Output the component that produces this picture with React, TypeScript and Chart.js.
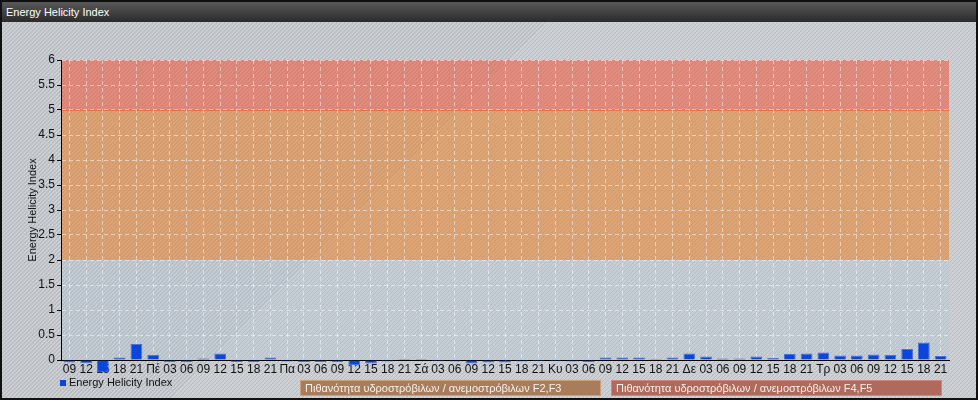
import { useEffect, useRef } from "react";
import { Chart, registerables } from "chart.js";

Chart.register(...registerables);

const FONT = "'Liberation Sans', Arial, sans-serif";
Chart.defaults.font.family = FONT;
Chart.defaults.font.size = 11;

const categories = [
  "09", "12", "15", "18", "21",
  "Πέ", "03", "06", "09", "12", "15", "18", "21",
  "Πα", "03", "06", "09", "12", "15", "18", "21",
  "Σά", "03", "06", "09", "12", "15", "18", "21",
  "Κυ", "03", "06", "09", "12", "15", "18", "21",
  "Δε", "03", "06", "09", "12", "15", "18", "21",
  "Τρ", "03", "06", "09", "12", "15", "18", "21",
];

const helicity = [
  -0.05, -0.06, -0.25, 0.05, 0.32,
  0.1, -0.04, -0.04, 0.03, 0.13, -0.04, -0.04, 0.05,
  -0.03, -0.04, -0.04, -0.04, -0.1, -0.07, -0.03, 0.02,
  0.02, -0.02, -0.03, -0.07, -0.05, -0.05, -0.03, -0.02,
  -0.02, -0.03, -0.04, 0.05, 0.05, 0.05, 0.02, 0.05,
  0.13, 0.07, 0.03, 0.03, 0.07, 0.04, 0.12, 0.13,
  0.15, 0.09, 0.09, 0.11, 0.1, 0.22, 0.35, 0.08,
];

const yMin = 0;
const yMax = 6;
const yStep = 0.5;

const bandFrom = [0, 2, 5];
const bandTo = [2, 5, 6];
const bandColors = ["rgba(170,190,215,0.22)", "rgba(230,132,54,0.6)", "rgba(236,92,66,0.6)"];

const seriesName = "Energy Helicity Index";
const bandLabels = [
  "Πιθανότητα υδροστρόβιλων / ανεμοστρόβιλων F2,F3",
  "Πιθανότητα υδροστρόβιλων / ανεμοστρόβιλων F4,F5",
];

const bandsPlugin = {
  id: "bands",
  beforeDraw(chart: any) {
    const { ctx, chartArea, scales } = chart;
    const y = scales.y;
    ctx.save();
    for (let i = 0; i < bandFrom.length; i++) {
      const top = y.getPixelForValue(bandTo[i]);
      const bot = y.getPixelForValue(bandFrom[i]);
      ctx.fillStyle = bandColors[i];
      ctx.fillRect(chartArea.left, top, chartArea.right - chartArea.left, bot - top);
    }
    const yb = Math.round(y.getPixelForValue(bandFrom[2])) + 0.5;
    ctx.strokeStyle = "rgba(236,108,60,0.9)";
    ctx.lineWidth = 1;
    ctx.beginPath();
    ctx.moveTo(chartArea.left, yb);
    ctx.lineTo(chartArea.right, yb);
    ctx.stroke();
    ctx.restore();
  },
};

export default function App() {
  const ref = useRef<HTMLCanvasElement>(null);

  useEffect(() => {
    if (!ref.current) return;
    const chart = new Chart(ref.current, {
      type: "bar",
      data: {
        labels: categories,
        datasets: [
          {
            label: seriesName,
            data: helicity,
            backgroundColor: "#0a46dc",
            borderColor: "#4c72d6",
            borderWidth: 1,
            borderSkipped: "start",
            barPercentage: 0.7,
            categoryPercentage: 1,
            clip: false as any,
          },
        ],
      },
      options: {
        animation: false,
        responsive: false,
        layout: { padding: { left: 0, right: 27, top: 38, bottom: 0 } },
        plugins: {
          legend: { display: false },
          tooltip: { enabled: false },
          title: { display: false },
        },
        scales: {
          x: {
            offset: true,
            grid: {
              offset: false,
              color: "rgba(255,255,255,0.5)",
              drawTicks: false,
            },
            border: { color: "#000", width: 1, dash: [4, 3] },
            ticks: {
              autoSkip: false,
              maxRotation: 0,
              minRotation: 0,
              padding: 2,
              color: "#111",
              font: { size: 12, family: FONT },
            },
            afterFit: (s: any) => {
              s.height = 38;
            },
          },
          y: {
            min: yMin,
            max: yMax,
            ticks: {
              stepSize: yStep,
              padding: 2,
              color: "#111",
              font: { size: 12, family: FONT },
              callback: (v: any) => String(Number(v)),
            },
            grid: {
              color: "rgba(255,255,255,0.5)",
              tickColor: "#000",
              tickLength: 4,
              tickBorderDash: [],
            },
            border: { color: "#000", width: 1, dash: [4, 3] },
            title: {
              display: true,
              text: seriesName,
              color: "#111",
              font: { size: 11, family: FONT },
              padding: { top: 24, bottom: 0 },
            },
            afterFit: (s: any) => {
              s.width = 59;
            },
          },
        },
      },
      plugins: [bandsPlugin],
    });
    return () => chart.destroy();
  }, []);

  const stripes =
    "repeating-linear-gradient(135deg, #cdd1d5 0px, #cdd1d5 1.9px, #b9bdc2 1.9px, #b9bdc2 2.83px)";

  return (
    <div
      style={{
        position: "fixed",
        left: 0,
        top: 0,
        width: 978,
        height: 400,
        boxSizing: "border-box",
        border: "2px solid #111",
        background: stripes,
        fontFamily: FONT,
        overflow: "hidden",
      }}
    >
      <div
        style={{
          height: 20,
          background: "linear-gradient(#595959, #2b2b2b)",
          color: "#fff",
          fontSize: 11,
          lineHeight: "20px",
          paddingLeft: 4,
          whiteSpace: "nowrap",
        }}
      >
        Energy Helicity Index
      </div>
      <div style={{ position: "relative", width: 974, height: 376 }}>
        <canvas ref={ref} width={974} height={376} style={{ display: "block" }} />
        <div
          style={{
            position: "absolute",
            left: 58,
            top: 358,
            width: 6,
            height: 6,
            background: "#0a46dc",
          }}
        />
        <div
          style={{
            position: "absolute",
            left: 67,
            top: 353,
            fontSize: 11,
            lineHeight: "14px",
            color: "#111",
            whiteSpace: "nowrap",
          }}
        >
          {seriesName}
        </div>
        <div
          style={{
            position: "absolute",
            left: 298,
            top: 358,
            width: 301,
            height: 16,
            boxSizing: "border-box",
            background: "#a97c5b",
            border: "1px solid #caa07a",
            color: "#f6f1ea",
            fontSize: 11,
            lineHeight: "14px",
            paddingLeft: 4,
            whiteSpace: "nowrap",
          }}
        >
          {bandLabels[0]}
        </div>
        <div
          style={{
            position: "absolute",
            left: 609,
            top: 358,
            width: 331,
            height: 16,
            boxSizing: "border-box",
            background: "#b0695d",
            border: "1px solid #cc887a",
            color: "#f6f1ea",
            fontSize: 11,
            lineHeight: "14px",
            paddingLeft: 4,
            whiteSpace: "nowrap",
          }}
        >
          {bandLabels[1]}
        </div>
      </div>
    </div>
  );
}
